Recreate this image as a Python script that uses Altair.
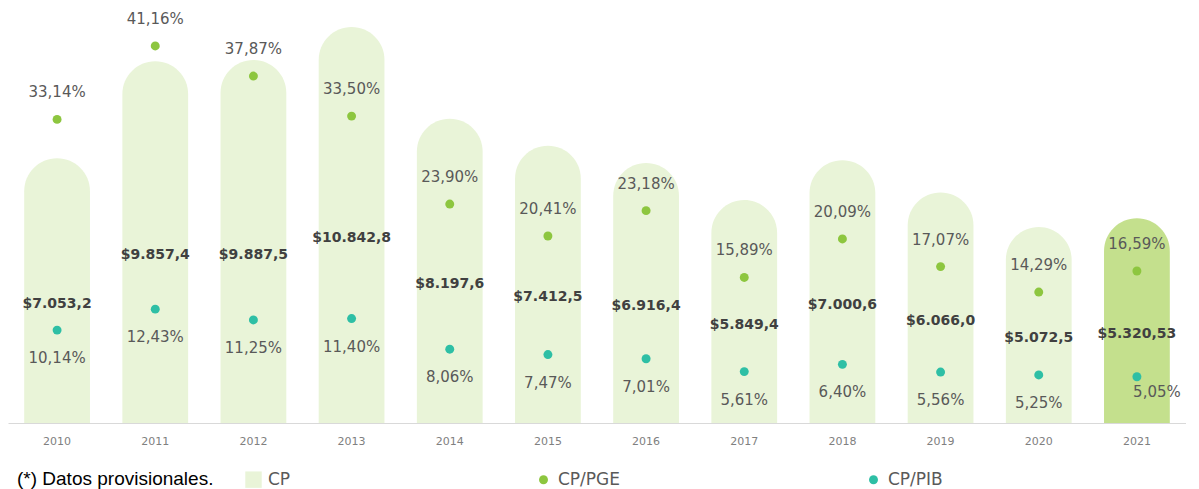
import altair as alt
import pandas as pd

years = ["2010", "2011", "2012", "2013", "2014", "2015", "2016", "2017", "2018", "2019", "2020", "2021"]
cp = [7053.2, 9857.4, 9887.5, 10842.8, 8197.6, 7412.5, 6916.4, 5849.4, 7000.6, 6066.0, 5072.5, 5320.53]
cp_labels = ["$7.053,2", "$9.857,4", "$9.887,5", "$10.842,8", "$8.197,6", "$7.412,5",
             "$6.916,4", "$5.849,4", "$7.000,6", "$6.066,0", "$5.072,5", "$5.320,53"]
cp_pge = [33.14, 41.16, 37.87, 33.50, 23.90, 20.41, 23.18, 15.89, 20.09, 17.07, 14.29, 16.59]
cp_pib = [10.14, 12.43, 11.25, 11.40, 8.06, 7.47, 7.01, 5.61, 6.40, 5.56, 5.25, 5.05]

series = ["CP", "CP/PGE", "CP/PIB"]
series_colors = ["#E9F4D8", "#8DC63F", "#2EBFA5"]
series_shapes = ["square", "circle", "circle"]
series_sizes = [270, 80, 80]
provisional_color = "#C4E08D"


def pct(v):
    return f"{v:.2f}".replace(".", ",") + "%"


df = pd.DataFrame({
    "year": years,
    "cp": cp,
    "cp_label": cp_labels,
    "pge": cp_pge,
    "pge_label": [pct(v) for v in cp_pge],
    "pib": cp_pib,
    "pib_label": [pct(v) for v in cp_pib],
})

BAR_MIN = -586
BAR_MAX = 11391
PCT_DOMAIN = [0, 45.3]

legend = alt.Legend(
    title="(*) Datos provisionales.", orient="none", legendX=9, legendY=463,
    direction="horizontal", columns=3, columnPadding=244,
    titleOrient="left", titleFont="Liberation Sans", titleFontSize=19,
    titleFontWeight="normal", titleColor="#000000", titlePadding=31,
    titleBaseline="middle", titleLimit=400,
    labelFont="DejaVu Sans", labelFontSize=17, labelColor="#595959",
    labelOffset=6, symbolStrokeWidth=0,
)

color_scale = alt.Scale(domain=series, range=series_colors)
shape_scale = alt.Scale(domain=series, range=series_shapes)
size_scale = alt.Scale(type="ordinal", domain=series, range=series_sizes)

xaxis = alt.Axis(title=None, labelAngle=0, ticks=False, grid=False,
                 domainColor="#d9d9d9", domainWidth=1,
                 labelFont="DejaVu Sans", labelFontSize=11, labelColor="#808080",
                 labelPadding=12)
X = alt.X("year:N", sort=years, axis=xaxis,
          scale=alt.Scale(paddingInner=0.33, paddingOuter=0.165))

base = alt.Chart(df)
bar_y = alt.Scale(domain=[BAR_MIN, BAR_MAX], zero=False, nice=False)
pct_y = alt.Scale(domain=PCT_DOMAIN, zero=True, nice=False)

bars = base.mark_bar(cornerRadiusTopLeft=33, cornerRadiusTopRight=33).transform_calculate(
    serie="'CP'"
).encode(
    x=X,
    y=alt.Y("cp:Q", scale=bar_y, axis=None),
    y2=alt.datum(BAR_MIN),
    color=alt.condition("datum.year == '2021'", alt.value(provisional_color),
                        alt.Color("serie:N", scale=color_scale, legend=legend)),
)

bar_text = base.mark_text(font="DejaVu Sans", fontSize=14, fontWeight="bold",
                          color="#404040", dy=13).transform_calculate(
    mid=f"(datum.cp + ({BAR_MIN})) / 2"
).encode(
    x=X,
    y=alt.Y("mid:Q", scale=bar_y, axis=None),
    text="cp_label:N",
)

pge_pts = base.mark_point(filled=True, opacity=1).transform_calculate(
    serie="'CP/PGE'"
).encode(
    x=X,
    y=alt.Y("pge:Q", scale=pct_y, axis=None),
    color=alt.Color("serie:N", scale=color_scale, legend=legend),
    shape=alt.Shape("serie:N", scale=shape_scale, legend=legend),
    size=alt.Size("serie:N", scale=size_scale, legend=legend),
)

pge_text = base.mark_text(font="DejaVu Sans", fontSize=15, color="#595959", dy=-27).encode(
    x=X,
    y=alt.Y("pge:Q", scale=pct_y, axis=None),
    text="pge_label:N",
)

pib_pts = base.mark_point(filled=True, opacity=1).transform_calculate(
    serie="'CP/PIB'"
).encode(
    x=X,
    y=alt.Y("pib:Q", scale=pct_y, axis=None),
    color=alt.Color("serie:N", scale=color_scale, legend=legend),
    shape=alt.Shape("serie:N", scale=shape_scale, legend=legend),
    size=alt.Size("serie:N", scale=size_scale, legend=legend),
)

pib_text = base.mark_text(font="DejaVu Sans", fontSize=15, color="#595959", dy=28).transform_filter(
    "datum.year != '2021'"
).encode(
    x=X,
    y=alt.Y("pib:Q", scale=pct_y, axis=None),
    text="pib_label:N",
)

pib_text_last = base.mark_text(font="DejaVu Sans", fontSize=15, color="#595959", dy=15, dx=20).transform_filter(
    "datum.year == '2021'"
).encode(
    x=X,
    y=alt.Y("pib:Q", scale=pct_y, axis=None),
    text="pib_label:N",
)

chart = alt.layer(
    bars, bar_text, pge_pts, pge_text, pib_pts, pib_text, pib_text_last
).resolve_scale(
    y="independent"
).properties(
    width=1178, height=415, padding=0,
).configure_view(stroke=None)

chart.save("out.html", embed_options={"renderer": "svg", "actions": False})
